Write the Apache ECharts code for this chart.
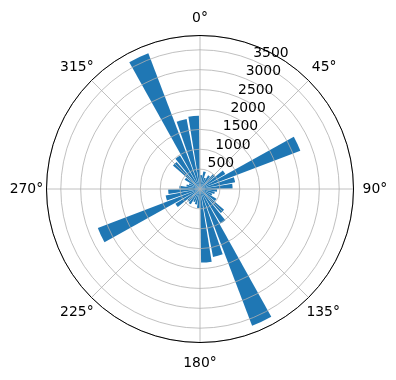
<!DOCTYPE html>
<html>
<head>
<meta charset="utf-8">
<script src="https://cdn.jsdelivr.net/npm/echarts@6/dist/echarts.min.js"></script>
<style>
  html, body { margin: 0; padding: 0; background: #fff; }
  #chart { width: 396px; height: 380px; }
</style>
</head>
<body>
<div id="chart"></div>
<script>
// bin centres (degrees, clockwise from north) and bar heights
const directions = [5, 15, 25, 35, 45, 55, 65, 75, 85, 95, 105, 115,
  125, 135, 145, 155, 165, 175, 185, 195, 205, 215, 225, 235,
  245, 255, 265, 275, 285, 295, 305, 315, 325, 335, 345, 355];
const counts = [350, 450, 300, 400, 500, 740, 2700, 900, 820, 430, 380, 330,
  480, 800, 1010, 3680, 1740, 1850, 480, 400, 350, 450, 420, 720,
  2750, 880, 800, 520, 350, 300, 450, 900, 980, 3650, 1790, 1840];
const angleTicks = [0, 45, 90, 135, 180, 225, 270, 315];
const radiusTicks = [500, 1000, 1500, 2000, 2500, 3000, 3500];
const rMax = 3860;

const chart = echarts.init(document.getElementById('chart'));

const center = [200, 189];
const radius = 153.5;
const font = 'DejaVu Sans';
const gridColor = '#b0b0b0';

// echarts aligns angle labels by their edge; pad them so they sit
// centred on a circle like matplotlib does
const labelPad = {
  a0: [0, 0, 12.8, 0],
  a45: [0, 0, 8.5, 5.4],
  a90: [0, 0, 0, 12.1],
  a135: [9.6, 0, 0, 0],
  a180: [17, 0, 0, 0],
  a225: [9.6, 0, 0, 0],
  a270: [0, 6.4, 0, 0],
  a315: [0, 0, 8.5, 0]
};
const rich = {};
Object.keys(labelPad).forEach(k => {
  rich[k] = { padding: labelPad[k], fontFamily: font, fontSize: 13.9, color: '#000' };
});

chart.setOption({
  animation: false,
  polar: [
    { center: center, radius: radius },
    { center: center, radius: radius },
    { center: center, radius: radius }
  ],
  angleAxis: [
    {
      polarIndex: 0, type: 'category', data: directions,
      startAngle: 90, clockwise: true, boundaryGap: true,
      axisLine: { show: false }, axisTick: { show: false },
      axisLabel: { show: false }, splitLine: { show: false }
    },
    {
      polarIndex: 1, type: 'value', min: 0, max: 360, interval: 45,
      startAngle: 90, clockwise: true, z: 4,
      axisLine: { lineStyle: { color: '#000', width: 1 } },
      axisTick: { show: false },
      axisLabel: {
        margin: -3,
        fontFamily: font, fontSize: 13.9, color: '#000',
        formatter: v => angleTicks.includes(v) ? '{a' + v + '|' + v + '°}' : '',
        rich: rich
      },
      splitLine: { lineStyle: { color: gridColor, width: 0.8 } }
    },
    // only used to put the radial labels at 22.5°
    {
      polarIndex: 2, type: 'value', min: 0, max: 360,
      startAngle: 67.5, show: false
    }
  ],
  radiusAxis: [
    { polarIndex: 0, min: 0, max: rMax, show: false },
    {
      polarIndex: 1, min: 0, max: rMax, interval: 500, z: 3,
      axisLine: { show: false }, axisTick: { show: false },
      axisLabel: { show: false },
      splitLine: { lineStyle: { color: gridColor, width: 0.8 } }
    },
    {
      polarIndex: 2, min: 0, max: rMax, interval: 500, z: 5,
      axisLine: { show: false }, axisTick: { show: false },
      splitLine: { show: false },
      axisLabel: {
        margin: 0, align: 'left', verticalAlign: 'bottom',
        fontFamily: font, fontSize: 13.9, color: '#000',
        formatter: v => radiusTicks.includes(v) ? String(v) : ''
      }
    }
  ],
  series: [{
    type: 'bar',
    coordinateSystem: 'polar',
    polarIndex: 0,
    data: counts,
    barCategoryGap: '17%',
    itemStyle: { color: '#1f77b4' },
    z: 2
  }]
});
</script>
</body>
</html>
